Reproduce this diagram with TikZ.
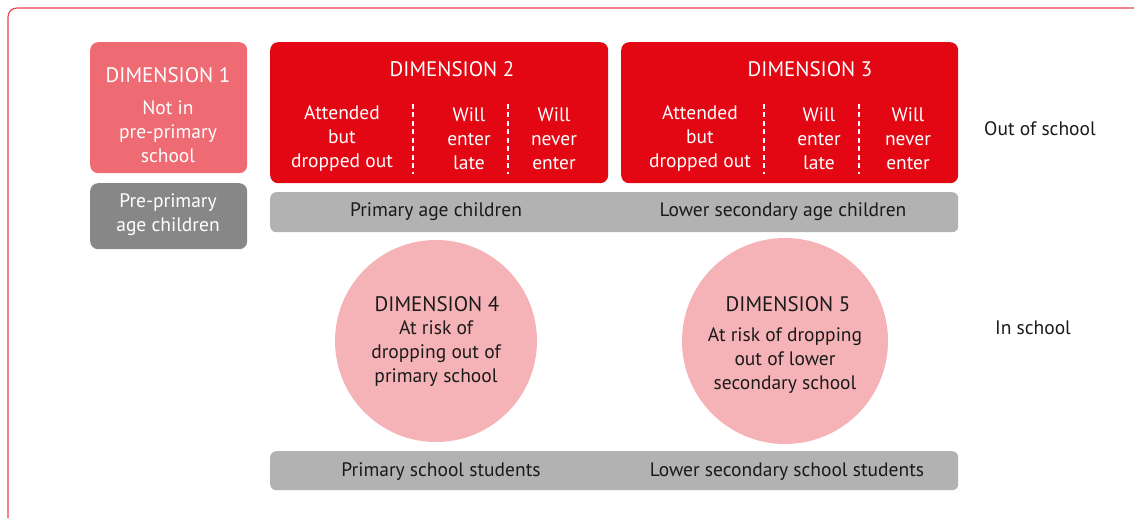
\documentclass[tikz,border=0pt]{standalone}
\usepackage{fontspec}
\setmainfont{PT Sans}
\definecolor{frame}{HTML}{E8414B}
\definecolor{dimred}{HTML}{E30613}
\definecolor{dimpink}{HTML}{EE6B74}
\definecolor{circpink}{HTML}{F6B3B7}
\definecolor{darkgray}{HTML}{878787}
\definecolor{lightgray}{HTML}{B2B2B2}
\definecolor{txt}{HTML}{1A1A1A}
\tikzset{
  box/.style={rectangle, rounded corners=8pt, draw=none, inner sep=0pt, anchor=north west},
  wtxt/.style={text=white, align=center, inner sep=0pt, font=\fontsize{19.5}{24}\selectfont},
  btxt/.style={text=txt, align=center, inner sep=0pt, font=\fontsize{19.5}{24}\selectfont},
  ttl/.style={font=\fontsize{21}{24}\selectfont},
  divider/.style={draw=white, line width=2pt, dash pattern=on 5pt off 3.5pt},
  circ/.style={circle, fill=circpink, draw=none, inner sep=0pt}
}
\begin{document}
\begin{tikzpicture}[x=1pt,y=-1pt]
\useasboundingbox (0,0) rectangle (1134,518);
\begin{scope}
\clip (0,0) rectangle (1134,518);
\draw[frame, line width=1.1pt, rounded corners=9pt] (8,8) rectangle (1160,540);
\end{scope}
% Dimension 1
\node[box, fill=dimpink, minimum width=157pt, minimum height=131pt] (d1) at (90,42) {};
\node[wtxt, ttl] (d1t) at (168,75) {DIMENSION 1};
\node[wtxt] (d1s) at (168,132) {Not in\\pre-primary\\school};
\node[box, fill=darkgray, minimum width=157pt, minimum height=66pt] (pp) at (90,183) {};
\node[wtxt] (ppt) at (168,215) {Pre-primary\\age children};
% Dimension 2
\node[box, fill=dimred, minimum width=338pt, minimum height=141pt] (d2) at (270,42) {};
\node[wtxt, ttl] (d2t) at (452,69) {DIMENSION 2};
\node[wtxt] (d2a) at (342,139) {Attended\\but\\dropped out};
\node[wtxt] (d2b) at (469,139) {Will\\enter\\late};
\node[wtxt] (d2c) at (554,139) {Will\\never\\enter};
\coordinate (d2l1t) at (413,104); \coordinate (d2l1b) at (413,174);
\coordinate (d2l2t) at (508,104); \coordinate (d2l2b) at (508,174);
\draw[divider] (d2l1t) -- (d2l1b);
\draw[divider] (d2l2t) -- (d2l2b);
% Dimension 3
\node[box, fill=dimred, minimum width=337pt, minimum height=141pt] (d3) at (621,42) {};
\node[wtxt, ttl] (d3t) at (810,69) {DIMENSION 3};
\node[wtxt] (d3a) at (700,139) {Attended\\but\\dropped out};
\node[wtxt] (d3b) at (819,139) {Will\\enter\\late};
\node[wtxt] (d3c) at (908,139) {Will\\never\\enter};
\coordinate (d3l1t) at (764,104); \coordinate (d3l1b) at (764,174);
\coordinate (d3l2t) at (859,104); \coordinate (d3l2b) at (859,174);
\draw[divider] (d3l1t) -- (d3l1b);
\draw[divider] (d3l2t) -- (d3l2b);
% age bar
\node[box, fill=lightgray, rounded corners=6pt, minimum width=688pt, minimum height=40pt] (agebar) at (270,192) {};
\node[btxt] (age1) at (436,212) {Primary age children};
\node[btxt] (age2) at (783,212) {Lower secondary age children};
% circles
\node[circ, minimum size=202pt] (d4) at (436,341) {};
\node[btxt, ttl] (d4t) at (437,304) {DIMENSION 4};
\node[btxt] (d4s) at (436,354) {At risk of\\dropping out of\\primary school};
\node[circ, minimum size=206pt] (d5) at (785,341) {};
\node[btxt, ttl] (d5t) at (788,304) {DIMENSION 5};
\node[btxt] (d5s) at (785,361) {At risk of dropping\\out of lower\\secondary school};
% students bar
\node[box, fill=lightgray, rounded corners=6pt, minimum width=688pt, minimum height=39pt] (stbar) at (270,451) {};
\node[btxt] (st1) at (441,472) {Primary school students};
\node[btxt] (st2) at (787,472) {Lower secondary school students};
% side labels
\node[btxt] (out) at (1040,129) {Out of school};
\node[btxt] (in) at (1033,328) {In school};
\end{tikzpicture}
\end{document}
